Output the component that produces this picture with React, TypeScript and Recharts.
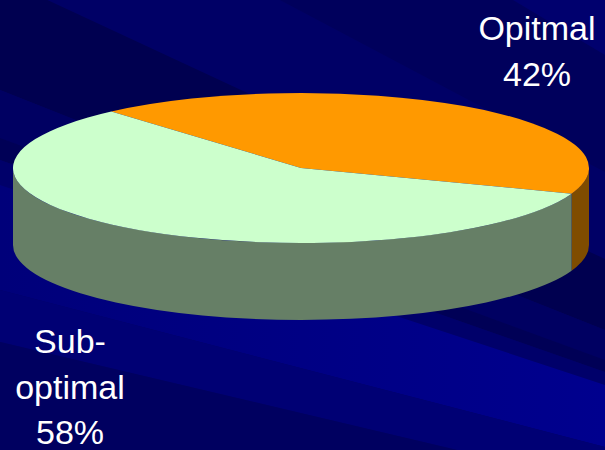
import React from 'react';
import { PieChart, Pie, Cell } from 'recharts';

// Share of cases by outcome
const categories = ['Opitmal', 'Sub-optimal'];
const values = [42, 58];
const topColors = ['#FF9900', '#CCFFCC'];

const data = categories.map((name, i) => ({ name, value: values[i] }));

const W = 605;
const H = 450;
const TILT = 75 / 288; // vertical squash of the disc
const DEPTH = 77 / 288; // thickness of the disc relative to its radius

const LABEL_POS = [
  { x: 537, y: 40 },
  { x: 70, y: 353 },
];
const LINE_H = 45.5;

function halfTone(hex: string): string {
  const n = parseInt(hex.slice(1), 16);
  const r = Math.floor(((n >> 16) & 255) / 2);
  const g = Math.floor(((n >> 8) & 255) / 2);
  const b = Math.floor((n & 255) / 2);
  return `rgb(${r},${g},${b})`;
}

function pt(cx: number, cy: number, rx: number, ry: number, deg: number) {
  const r = (deg * Math.PI) / 180;
  return [cx + rx * Math.cos(r), cy - ry * Math.sin(r)];
}

function Slice3D(props: any) {
  const { cx, cy, outerRadius, startAngle, endAngle, fill } = props;
  const rx = outerRadius;
  const ry = outerRadius * TILT;
  const depth = outerRadius * DEPTH;
  const s = Math.min(startAngle, endAngle);
  const e = Math.max(startAngle, endAngle);

  // top face
  const p0 = pt(cx, cy, rx, ry, s);
  const p1 = pt(cx, cy, rx, ry, e);
  const large = e - s > 180 ? 1 : 0;
  const top = `M${cx},${cy} L${p0[0]},${p0[1]} A${rx},${ry} 0 ${large} 0 ${p1[0]},${p1[1]} Z`;

  // front-facing rim: parts of the arc in the lower half of the ellipse
  const walls: string[] = [];
  for (let k = -1; k <= 1; k++) {
    const a = Math.max(s, 180 + 360 * k);
    const b = Math.min(e, 360 + 360 * k);
    if (b > a) {
      const q0 = pt(cx, cy, rx, ry, a);
      const q1 = pt(cx, cy, rx, ry, b);
      const lg = b - a > 180 ? 1 : 0;
      walls.push(
        `M${q0[0]},${q0[1]} A${rx},${ry} 0 ${lg} 0 ${q1[0]},${q1[1]} ` +
          `L${q1[0]},${q1[1] + depth} A${rx},${ry} 0 ${lg} 1 ${q0[0]},${q0[1] + depth} Z`
      );
    }
  }

  return (
    <g>
      {walls.map((d, i) => (
        <path key={i} d={d} fill={halfTone(fill)} stroke="none" />
      ))}
      <path d={top} fill={fill} stroke="none" />
    </g>
  );
}

function renderLabel(props: any) {
  const { index, name, percent } = props;
  const pos = LABEL_POS[index];
  const lines = String(name).replace('-', '-\n').split('\n');
  lines.push(`${Math.round(percent * 100)}%`);
  return (
    <text
      x={pos.x}
      y={pos.y}
      fill="#FFFFFF"
      fontFamily="'Liberation Sans', Arial, sans-serif"
      fontSize={34}
      textAnchor="middle"
    >
      {lines.map((t, i) => (
        <tspan key={i} x={pos.x} y={pos.y + i * LINE_H}>
          {t}
        </tspan>
      ))}
    </text>
  );
}

function band(yl0: number, yr0: number, yl1: number, yr1: number) {
  return `0,${yl0} ${W},${yr0} ${W},${yr1} 0,${yl1}`;
}

function Backdrop() {
  return (
    <svg width={W} height={H} style={{ position: 'absolute', left: 0, top: 0 }}>
      <defs>
        <linearGradient id="ray" x1="0" y1="0" x2="1" y2="0">
          <stop offset="0" stopColor="#00007A" />
          <stop offset="1" stopColor="#00008E" />
        </linearGradient>
      </defs>
      <rect x={0} y={0} width={W} height={H} fill="#000066" />
      <polygon points={`280,0 ${W},0 ${W},172`} fill="#00005C" />
      <polygon points={`513,0 ${W},0 ${W},55`} fill="#00006E" />
      <polygon points={band(-22, 259, 90, 330)} fill="#000050" />
      <polygon points={band(90, 330, 138, 360)} fill="#000062" />
      <polygon points={band(138, 360, 160, 372)} fill="#000056" />
      <polygon points={band(160, 372, 185, 385)} fill="#00006A" />
      <polygon points={band(185, 385, 290, 447)} fill="url(#ray)" />
      <polygon points={band(290, 447, 342, 485)} fill="#000074" />
      <polygon points={band(342, 485, 520, 620)} fill="#000060" />
    </svg>
  );
}

export default function App() {
  return (
    <div style={{ position: 'absolute', left: 0, top: 0, width: W, height: H, overflow: 'hidden' }}>
      <Backdrop />
      <div style={{ position: 'absolute', left: 0, top: 0 }}>
        <PieChart width={W} height={H} margin={{ top: 0, right: 0, bottom: 0, left: 0 }}>
          <Pie
            data={data}
            dataKey="value"
            nameKey="name"
            cx={301}
            cy={168}
            innerRadius={0}
            outerRadius={288}
            startAngle={-20}
            endAngle={340}
            stroke="none"
            isAnimationActive={false}
            shape={Slice3D}
            activeShape={Slice3D}
            inactiveShape={Slice3D}
            label={renderLabel}
            labelLine={false}
          >
            {data.map((d, i) => (
              <Cell key={d.name} fill={topColors[i]} />
            ))}
          </Pie>
        </PieChart>
      </div>
    </div>
  );
}
